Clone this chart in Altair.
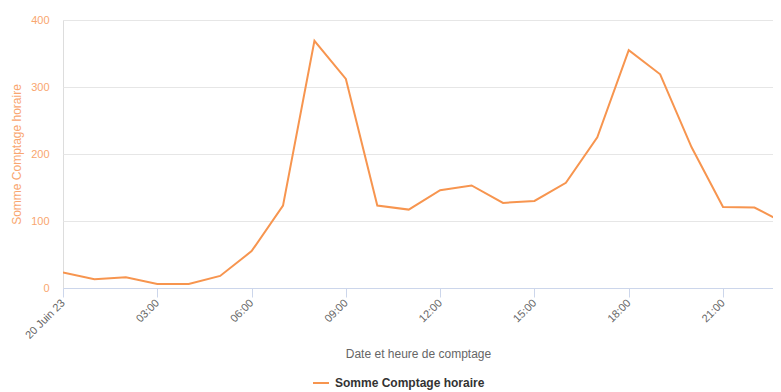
import altair as alt
import pandas as pd

hours = list(range(24))
counts = [23, 13, 16, 6, 6, 18, 55, 123, 369, 312, 123, 117, 146, 153, 127, 130, 157, 225, 355, 319, 210, 121, 120, 96]
series_name = "Somme Comptage horaire"
x_ticks = [0, 3, 6, 9, 12, 15, 18, 21]
y_ticks = [0, 100, 200, 300, 400]

df = pd.DataFrame({"heure": hours, "valeur": counts, "serie": series_name})

FONT = "Liberation Sans"
ORANGE = "#f7954f"

chart = alt.Chart(df).mark_line(strokeWidth=2, clip=True).encode(
    x=alt.X(
        "heure:Q",
        scale=alt.Scale(domain=[0, 22.59], nice=False, zero=False),
        axis=alt.Axis(
            values=x_ticks,
            labelExpr="datum.value == 0 ? '20 Juin 23' : (datum.value < 10 ? '0' : '') + datum.value + ':00'",
            labelAngle=-45,
            labelAlign="right",
            labelBaseline="middle",
            labelPadding=4,
            labelColor="#666666",
            labelFontSize=11,
            labelFont=FONT,
            tickSize=9,
            tickColor="#ccd6eb",
            domainColor="#ccd6eb",
            grid=False,
            title="Date et heure de comptage",
            titleColor="#666666",
            titleFontSize=12,
            titleFontWeight="normal",
            titleFont=FONT,
            titleY=65,
            titleBaseline="middle",
            labelOverlap=False,
        ),
    ),
    y=alt.Y(
        "valeur:Q",
        scale=alt.Scale(domain=[0, 400], nice=False),
        axis=alt.Axis(
            values=y_ticks,
            labelColor="#f9a66f",
            labelFontSize=11,
            labelFont=FONT,
            labelPadding=14,
            ticks=False,
            domain=False,
            gridColor="#e6e6e6",
            title="Somme Comptage horaire",
            titleColor="#f9a66f",
            titleFontSize=12,
            titleFontWeight="normal",
            titleFont=FONT,
            titleX=-47,
            titleY=134,
            titleBaseline="middle",
        ),
    ),
    color=alt.Color(
        "serie:N",
        scale=alt.Scale(range=[ORANGE]),
        legend=alt.Legend(
            title=None,
            orient="none",
            legendX=249,
            legendY=354,
            symbolType="stroke",
            symbolSize=256,
            symbolStrokeWidth=2,
            labelFont=FONT,
            labelFontSize=12,
            labelFontWeight="bold",
            labelColor="#333333",
            labelOffset=5,
        ),
    ),
).properties(
    width=710,
    height=268,
    autosize=alt.AutoSizeParams(type="none"),
    padding={"left": 55, "top": 12, "right": 0, "bottom": 104},
).configure_view(stroke=None).configure(background="white")

chart.save("out.html", embed_options={"renderer": "svg", "actions": False})
